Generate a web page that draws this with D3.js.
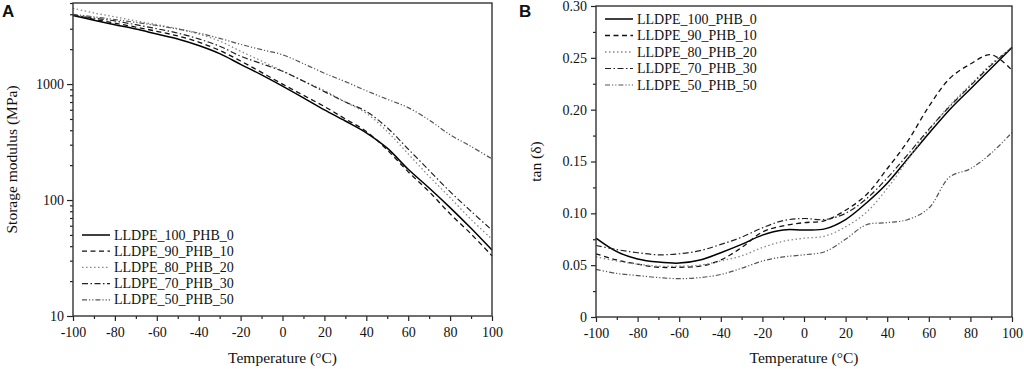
<!DOCTYPE html>
<html><head><meta charset="utf-8">
<script src="https://cdn.jsdelivr.net/npm/d3@7"></script>
<style>
body{margin:0;background:#fff;}
svg{display:block;}
text{font-family:"Liberation Serif","Times New Roman",serif;fill:#111;}
</style></head>
<body><svg id="chart" width="1024" height="369"></svg>
<script>
// ---------- data ----------
const temps = [-100,-90,-80,-70,-60,-50,-40,-30,-20,-10,0,10,20,30,40,50,60,70,80,90,100];
const seriesNames = ["LLDPE_100_PHB_0","LLDPE_90_PHB_10","LLDPE_80_PHB_20","LLDPE_70_PHB_30","LLDPE_50_PHB_50"];

// Panel A: storage modulus (MPa)
const modulus_100_0 = [3900,3550,3250,2980,2700,2450,2150,1830,1480,1200,960,760,600,480,380,280,184,127,86,57,37];
const modulus_90_10 = [3950,3620,3350,3100,2850,2600,2300,1950,1580,1260,1000,800,640,500,390,270,175,118,76,51,33];
const modulus_80_20 = [4500,4100,3800,3500,3250,3000,2700,2350,1920,1580,1300,1060,880,700,560,390,250,160,105,68,46];
const modulus_70_30 = [3950,3700,3500,3250,3000,2750,2450,2120,1740,1500,1290,1060,860,700,580,420,275,180,118,80,55];
const modulus_50_50 = [4000,3800,3600,3400,3200,2980,2750,2480,2200,1980,1790,1500,1240,1050,875,740,626,490,365,290,226];
const modulusTicks = [10,100,1000];

// Panel B: tan delta
const tan_100_0 = [0.076,0.063,0.056,0.053,0.052,0.055,0.062,0.070,0.079,0.084,0.084,0.085,0.094,0.110,0.129,0.153,0.177,0.200,0.220,0.240,0.260];
const tan_90_10 = [0.061,0.055,0.051,0.048,0.048,0.049,0.055,0.067,0.082,0.088,0.091,0.093,0.103,0.118,0.143,0.170,0.203,0.230,0.244,0.253,0.238];
const tan_80_20 = [0.058,0.054,0.051,0.049,0.049,0.050,0.054,0.059,0.067,0.073,0.076,0.078,0.087,0.101,0.124,0.152,0.180,0.204,0.224,0.244,0.260];
const tan_70_30 = [0.069,0.065,0.062,0.060,0.061,0.064,0.070,0.077,0.086,0.093,0.095,0.094,0.100,0.114,0.134,0.157,0.181,0.203,0.223,0.243,0.260];
const tan_50_50 = [0.046,0.042,0.040,0.038,0.037,0.038,0.041,0.047,0.054,0.058,0.060,0.063,0.075,0.089,0.091,0.094,0.105,0.135,0.143,0.158,0.178];
const tanTicks = [0,0.05,0.10,0.15,0.20,0.25,0.30];
const tempTicks = [-100,-80,-60,-40,-20,0,20,40,60,80,100];

// ---------- styles ----------
const styles = [
  {stroke:"#000", dash:null, w:1.5},
  {stroke:"#111", dash:"5,3.5", w:1.3},
  {stroke:"#888", dash:"1.5,2.5", w:1.3},
  {stroke:"#222", dash:"6,2.5,1.5,2.5", w:1.2},
  {stroke:"#555", dash:"5,2,1.2,2,1.2,2", w:1.2}
];

const svg = d3.select("#chart");

function xAxes(g, x, y0) {
  g.append("g").attr("transform",`translate(0,${y0})`)
    .call(d3.axisBottom(x).tickValues(d3.range(-90,100,20)).tickSize(3).tickFormat(""))
    .call(a=>a.select(".domain").remove());
  const ax = g.append("g").attr("transform",`translate(0,${y0})`)
    .call(d3.axisBottom(x).tickValues(tempTicks).tickSize(5).tickPadding(6).tickFormat(d=>String(d)));
  ax.select(".domain").remove();
  ax.selectAll("text").style("font-size","14px").attr("fill","#111");
  g.selectAll(".tick line").attr("stroke","#222").attr("stroke-width",1.2);
}

function frame(g, x0, y0, x1, y1) {
  g.append("rect").attr("x",x0).attr("y",y0).attr("width",x1-x0).attr("height",y1-y0)
    .attr("fill","none").attr("stroke","#333").attr("stroke-width",1.4);
}

function legend(g, lx, ly, dy) {
  seriesNames.forEach((n,i)=>{
    const s = styles[i];
    g.append("line").attr("x1",lx).attr("x2",lx+28).attr("y1",ly+i*dy).attr("y2",ly+i*dy)
      .attr("stroke",s.stroke).attr("stroke-width",s.w).attr("stroke-dasharray",s.dash);
    g.append("text").attr("x",lx+32).attr("y",ly+i*dy+4.5).style("font-size","14px").text(n);
  });
}

// ---------- Panel A ----------
{
  const L=73, R=492, T=3, B=316;
  const x = d3.scaleLinear().domain([-100,100]).range([L,R]);
  const y = d3.scaleLog().domain([10,5000]).range([B,T]);
  const g = svg.append("g");
  const data = [modulus_100_0,modulus_90_10,modulus_80_20,modulus_70_30,modulus_50_50];
  const line = d3.line().x((d,i)=>x(temps[i])).y(d=>y(d)).curve(d3.curveCatmullRom.alpha(0.5));
  data.forEach((s,i)=>{
    g.append("path").datum(s).attr("d",line).attr("fill","none")
      .attr("stroke",styles[i].stroke).attr("stroke-width",styles[i].w)
      .attr("stroke-dasharray",styles[i].dash);
  });
  const minors=[];
  [10,100,1000].forEach(dec=>{for(let k=2;k<=9;k++){const v=dec*k; if(v<=5000) minors.push(v);}});
  g.append("g").attr("transform",`translate(${L},0)`)
    .call(d3.axisLeft(y).tickValues(minors).tickSize(3).tickFormat(""))
    .call(a=>a.select(".domain").remove());
  const ay = g.append("g").attr("transform",`translate(${L},0)`)
    .call(d3.axisLeft(y).tickValues(modulusTicks).tickSize(6).tickPadding(3).tickFormat(d3.format("d")));
  ay.select(".domain").remove();
  ay.selectAll("text").style("font-size","14px").attr("fill","#111");
  xAxes(g, x, B);
  frame(g, L, T, R, B);
  legend(g, 82, 235, 16.2);
  g.append("text").attr("transform",`translate(17,${(T+B)/2}) rotate(-90)`).attr("text-anchor","middle")
    .style("font-size","15.5px").text("Storage modulus (MPa)");
  g.append("text").attr("x",(L+R)/2).attr("y",363).attr("text-anchor","middle")
    .style("font-size","15.5px").text("Temperature (°C)");
  g.append("text").attr("x",2).attr("y",17).style("font-family","'Liberation Sans',Arial,sans-serif")
    .style("font-weight","bold").style("font-size","17px").text("A");
}

// ---------- Panel B ----------
{
  const L=596, R=1012, T=6, B=317;
  const x = d3.scaleLinear().domain([-100,100]).range([L,R]);
  const y = d3.scaleLinear().domain([0,0.30]).range([B,T]);
  const g = svg.append("g");
  const data = [tan_100_0,tan_90_10,tan_80_20,tan_70_30,tan_50_50];
  const line = d3.line().x((d,i)=>x(temps[i])).y(d=>y(d)).curve(d3.curveCatmullRom.alpha(0.5));
  data.forEach((s,i)=>{
    g.append("path").datum(s).attr("d",line).attr("fill","none")
      .attr("stroke",styles[i].stroke).attr("stroke-width",styles[i].w)
      .attr("stroke-dasharray",styles[i].dash);
  });
  g.append("g").attr("transform",`translate(${L},0)`)
    .call(d3.axisLeft(y).tickValues(d3.range(0.025,0.3,0.05)).tickSize(3).tickFormat(""))
    .call(a=>a.select(".domain").remove());
  const ay = g.append("g").attr("transform",`translate(${L},0)`)
    .call(d3.axisLeft(y).tickValues(tanTicks).tickSize(5).tickPadding(4)
      .tickFormat(d=>d===0?"0":d3.format(".2f")(d)));
  ay.select(".domain").remove();
  ay.selectAll("text").style("font-size","14px").attr("fill","#111");
  xAxes(g, x, B);
  frame(g, L, T, R, B);
  legend(g, 605, 19, 16.5);
  g.append("text").attr("transform",`translate(541,${(T+B)/2}) rotate(-90)`).attr("text-anchor","middle")
    .style("font-size","15.5px").text("tan (δ)");
  g.append("text").attr("x",(L+R)/2).attr("y",363).attr("text-anchor","middle")
    .style("font-size","15.5px").text("Temperature (°C)");
  g.append("text").attr("x",519).attr("y",17).style("font-family","'Liberation Sans',Arial,sans-serif")
    .style("font-weight","bold").style("font-size","17px").text("B");
}
</script></body></html>
